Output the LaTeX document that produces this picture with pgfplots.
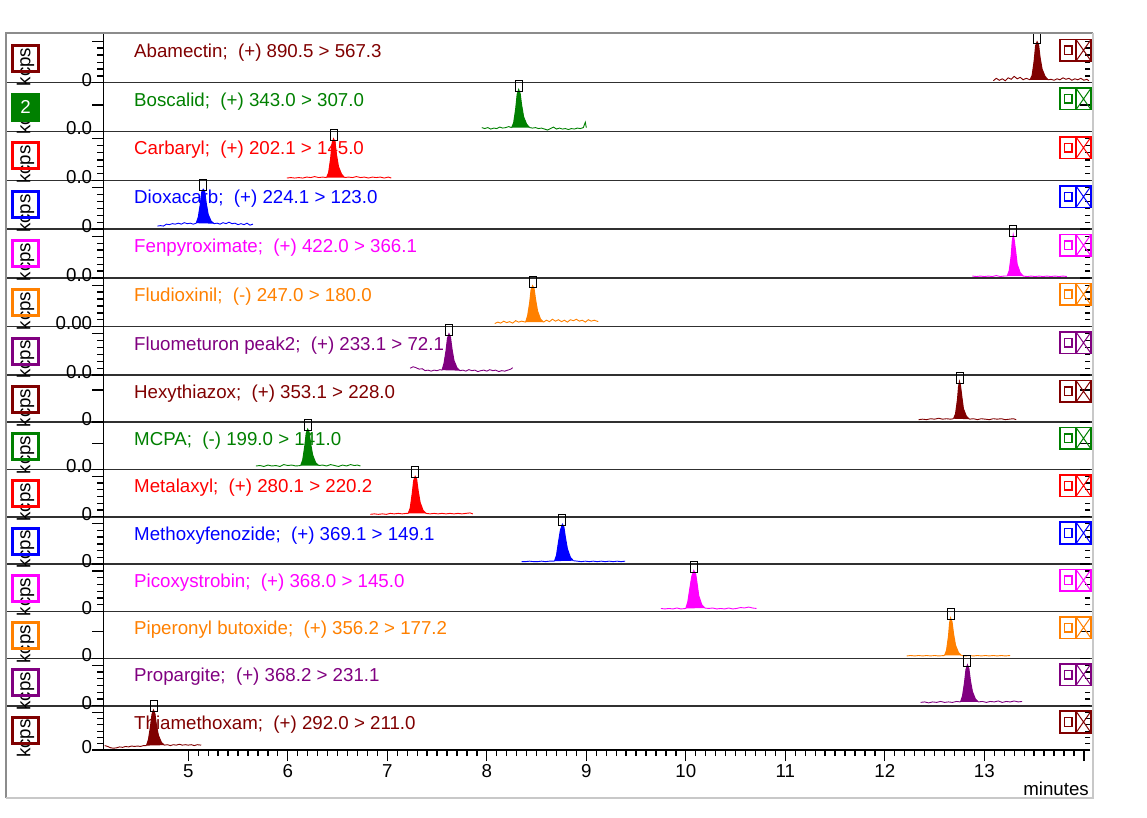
\documentclass[border=0pt]{standalone}
\usepackage{fontspec}
\setmainfont{Liberation Sans}
\usepackage{pgfplots}
\pgfplotsset{compat=1.18}
\definecolor{cA}{HTML}{800000}
\definecolor{cB}{HTML}{008000}
\definecolor{cC}{HTML}{FF0000}
\definecolor{cD}{HTML}{0000FF}
\definecolor{cE}{HTML}{FF00FF}
\definecolor{cF}{HTML}{FF8000}
\definecolor{cG}{HTML}{800080}
\definecolor{sep}{HTML}{303030}
\newcommand\fnt{\fontsize{18.7}{22}\selectfont}
\pgfdeclareplotmark{apexbox}{\pgfpathrectangle{\pgfqpoint{-3.5pt}{-1.5pt}}{\pgfqpoint{7pt}{11pt}}\pgfusepathqstroke}
\pgfplotsset{panel/.style={anchor=north west, width=987pt, scale only axis,
  xmin=4.146, xmax=14.065, ymin=0, ymax=1, clip=false,
  axis line style={draw=none}, ytick pos=left, xtick pos=bottom,
  tick align=outside, major tick length=11pt, minor tick length=6pt,
  tick style={black, line width=1.3pt}, xtick=\empty,
  /pgf/number format/assume math mode=true,
  tick label style={font=\fnt},
  yticklabel style={anchor=east, inner sep=0pt, xshift=0pt, yshift=3pt}},
  dense/.style={ytick={0,0.85}, minor ytick={0.14,0.28,0.42,0.57,0.71}},
  sparse/.style={ytick={0,#1}},
  ln/.style={#1, line width=0.9pt},
  pk/.style={fill=#1, draw=#1, line width=1pt}}
\newcommand\rtdense{\pgfplotsinvokeforeach{0.14,0.28,0.42,0.57,0.71,0.85}{\draw[line width=1.3pt] (rel axis cs:1,##1) -- ++(-5pt,0pt);}\draw[line width=1.3pt] (rel axis cs:1,0) -- ++(-10pt,0pt);}
\newcommand\rtsparse[1]{\draw[line width=1.3pt] (rel axis cs:1,#1) -- ++(-10pt,0pt);\draw[line width=1.3pt] (rel axis cs:1,0) -- ++(-10pt,0pt);}
\newcommand\apex[2]{\addplot[only marks, mark=apexbox, mark options={draw=black, line width=0.9pt}] coordinates {(#1,#2)};}
\newcommand\deco[3]{%
  \node[anchor=base west, text=#2, inner sep=0pt] at (134,{-#1-23.5}) {#3};
  \node[rotate=90, inner sep=0pt] at (25.5,{-#1-33}) {kcps};
  \draw[#2, line width=3pt] (12.5,{-#1-11.5}) rectangle (38.5,{-#1-37.5});}
\newcommand\icon[2]{%
  \draw[#2, line width=1.6pt] (1060,{-#1-5.5}) rectangle (1091,{-#1-27});
  \draw[#2, line width=1.4pt] (1076,{-#1-5.5}) -- (1076,{-#1-27});
  \draw[#2, line width=1.4pt] (1064.5,{-#1-12}) rectangle (1072,{-#1-20.5});
  \draw[#2, line width=1pt] (1076,{-#1-5.5}) -- (1091,{-#1-27}) (1076,{-#1-27}) -- (1091,{-#1-5.5});}
\begin{document}
\begin{tikzpicture}[x=1pt, y=1pt, font=\fnt]
\path[use as bounding box] (0,0) rectangle (1147,-818);
\foreach \T in {82.7,131.5,180.5,229,278,326.5,375,422,469.3,516.7,564,611.3,658.3,705.7}
  {\draw[sep, line width=1.6pt] (6,-\T) -- (1092,-\T);}
\draw[black, line width=1.6pt] (103.3,-750) -- (1090,-750);
\draw[black, line width=1.6pt] (103.3,-34) -- (103.3,-750);
\deco{34}{cA}{Abamectin;\ \ (+) 890.5 > 567.3}
\node[rotate=90, inner sep=0pt] at (25.5,{-82.7-33}) {kcps};
\fill[cB] (11,{-82.7-10}) rectangle (40,{-82.7-39});
\node[text=white] at (25.5,{-82.7-24.5}) {2};
\node[anchor=base west, text=cB, inner sep=0pt] at (134,{-82.7-23.5}) {Boscalid;\ \ (+) 343.0 > 307.0};
\deco{131.5}{cC}{Carbaryl;\ \ (+) 202.1 > 145.0}
\deco{180.5}{cD}{Dioxacarb;\ \ (+) 224.1 > 123.0}
\deco{229}{cE}{Fenpyroximate;\ \ (+) 422.0 > 366.1}
\deco{278}{cF}{Fludioxinil;\ \ (-) 247.0 > 180.0}
\deco{326.5}{cG}{Fluometuron peak2;\ \ (+) 233.1 > 72.1}
\deco{375}{cA}{Hexythiazox;\ \ (+) 353.1 > 228.0}
\deco{422}{cB}{MCPA;\ \ (-) 199.0 > 141.0}
\deco{469.3}{cC}{Metalaxyl;\ \ (+) 280.1 > 220.2}
\deco{516.7}{cD}{Methoxyfenozide;\ \ (+) 369.1 > 149.1}
\deco{564}{cE}{Picoxystrobin;\ \ (+) 368.0 > 145.0}
\deco{611.3}{cF}{Piperonyl butoxide;\ \ (+) 356.2 > 177.2}
\deco{658.3}{cG}{Propargite;\ \ (+) 368.2 > 231.1}
\deco{705.7}{cA}{Thiamethoxam;\ \ (+) 292.0 > 211.0}

% 1 Abamectin
\begin{axis}[panel, dense, at={(103.3pt,-34pt)}, height=48.7pt, yticklabels={0,{}}]
\addplot[ln=cA] coordinates {(13.09,0.04) (13.12,0.09) (13.15,0.05) (13.18,0.08) (13.21,0.04) (13.24,0.10) (13.27,0.07) (13.30,0.13) (13.33,0.08) (13.36,0.11) (13.39,0.06) (13.42,0.09) (13.46,0.06)};
\addplot[pk=cA] coordinates {(13.46,0.06) (13.48,0.15) (13.50,0.44) (13.515,0.76) (13.53,0.84) (13.545,0.78) (13.56,0.52) (13.58,0.28) (13.61,0.13) (13.64,0.06)};
\addplot[ln=cA] coordinates {(13.64,0.06) (13.67,0.07) (13.70,0.05) (13.73,0.08) (13.76,0.06) (13.79,0.10) (13.82,0.07) (13.85,0.09) (13.88,0.05) (13.91,0.08) (13.94,0.06) (13.97,0.09) (14.00,0.05) (14.03,0.07) (14.05,0.04)};
\apex{13.53}{0.84}
\rtdense
\end{axis}
% 2 Boscalid
\begin{axis}[panel, sparse=0.54, at={(103.3pt,-82.7pt)}, height=48.8pt, yticklabels={0.0,{}}]
\addplot[ln=cB] coordinates {(7.95,0.08) (7.98,0.06) (8.01,0.08) (8.04,0.05) (8.07,0.07) (8.10,0.06) (8.13,0.09) (8.16,0.07) (8.19,0.08) (8.22,0.10) (8.25,0.08)};
\addplot[pk=cB] coordinates {(8.25,0.08) (8.27,0.18) (8.29,0.46) (8.305,0.76) (8.32,0.86) (8.335,0.78) (8.35,0.54) (8.37,0.30) (8.40,0.15) (8.43,0.08)};
\addplot[ln=cB] coordinates {(8.43,0.08) (8.46,0.07) (8.49,0.08) (8.52,0.06) (8.55,0.07) (8.58,0.05) (8.61,0.03) (8.64,0.06) (8.67,0.09) (8.70,0.05) (8.73,0.07) (8.76,0.05) (8.79,0.06) (8.82,0.04) (8.85,0.06) (8.88,0.05) (8.91,0.07) (8.94,0.06) (8.97,0.08) (8.99,0.19) (9.00,0.08)};
\apex{8.32}{0.86}
\rtsparse{0.54}
\end{axis}
% 3 Carbaryl
\begin{axis}[panel, dense, at={(103.3pt,-131.5pt)}, height=49pt, yticklabels={0.0,{}}]
\addplot[ln=cC] coordinates {(5.99,0.05) (6.03,0.06) (6.07,0.05) (6.11,0.06) (6.15,0.05) (6.19,0.07) (6.23,0.06) (6.27,0.08) (6.31,0.06) (6.35,0.07) (6.39,0.06)};
\addplot[pk=cC] coordinates {(6.39,0.06) (6.41,0.16) (6.43,0.44) (6.445,0.76) (6.46,0.85) (6.475,0.78) (6.49,0.52) (6.51,0.28) (6.54,0.13) (6.57,0.06)};
\addplot[ln=cC] coordinates {(6.57,0.06) (6.61,0.07) (6.65,0.06) (6.69,0.08) (6.73,0.06) (6.77,0.07) (6.81,0.05) (6.85,0.07) (6.89,0.06) (6.93,0.07) (6.97,0.05) (7.01,0.07) (7.04,0.05)};
\apex{6.46}{0.85}
\rtdense
\end{axis}
% 4 Dioxacarb
\begin{axis}[panel, dense, at={(103.3pt,-180.5pt)}, height=48.5pt, yticklabels={0,{}}]
\addplot[ln=cD] coordinates {(4.69,0.06) (4.72,0.07) (4.75,0.06) (4.78,0.10) (4.81,0.09) (4.84,0.11) (4.87,0.10) (4.90,0.12) (4.93,0.10) (4.96,0.13) (4.99,0.11) (5.02,0.12) (5.05,0.10) (5.08,0.12)};
\addplot[pk=cD] coordinates {(5.08,0.12) (5.10,0.24) (5.12,0.50) (5.135,0.76) (5.15,0.82) (5.165,0.78) (5.18,0.54) (5.20,0.30) (5.23,0.16) (5.26,0.11)};
\addplot[ln=cD] coordinates {(5.26,0.11) (5.29,0.12) (5.32,0.10) (5.35,0.13) (5.38,0.11) (5.41,0.14) (5.44,0.11) (5.47,0.12) (5.50,0.09) (5.53,0.11) (5.56,0.09) (5.59,0.12) (5.62,0.08) (5.65,0.10)};
\apex{5.15}{0.82}
\rtdense
\end{axis}
% 5 Fenpyroximate
\begin{axis}[panel, dense, at={(103.3pt,-229pt)}, height=49pt, yticklabels={0.0,{}}]
\addplot[ln=cE] coordinates {(12.88,0.04) (12.92,0.03) (12.96,0.04) (13.00,0.03) (13.04,0.04) (13.08,0.03) (13.12,0.05) (13.16,0.03) (13.20,0.04) (13.23,0.04)};
\addplot[pk=cE] coordinates {(13.23,0.04) (13.25,0.15) (13.27,0.46) (13.28,0.74) (13.29,0.88) (13.30,0.78) (13.315,0.54) (13.33,0.28) (13.36,0.11) (13.39,0.04)};
\addplot[ln=cE] coordinates {(13.39,0.04) (13.43,0.03) (13.47,0.04) (13.51,0.03) (13.55,0.04) (13.59,0.03) (13.63,0.04) (13.67,0.03) (13.71,0.04) (13.75,0.03) (13.79,0.04) (13.83,0.03)};
\apex{13.29}{0.88}
\rtdense
\end{axis}
% 6 Fludioxinil
\begin{axis}[panel, dense, at={(103.3pt,-278pt)}, height=48.5pt, yticklabels={0.00,{}}]
\addplot[ln=cF] coordinates {(8.08,0.06) (8.11,0.09) (8.14,0.07) (8.17,0.11) (8.20,0.08) (8.23,0.10) (8.26,0.07) (8.29,0.12) (8.32,0.09) (8.35,0.11) (8.39,0.09)};
\addplot[pk=cF] coordinates {(8.39,0.09) (8.41,0.22) (8.43,0.48) (8.445,0.76) (8.46,0.84) (8.475,0.78) (8.49,0.56) (8.51,0.32) (8.54,0.15) (8.57,0.09)};
\addplot[ln=cF] coordinates {(8.57,0.09) (8.60,0.13) (8.63,0.10) (8.66,0.15) (8.69,0.11) (8.72,0.14) (8.75,0.10) (8.78,0.13) (8.81,0.09) (8.84,0.14) (8.87,0.12) (8.90,0.15) (8.93,0.11) (8.96,0.13) (8.99,0.09) (9.02,0.14) (9.05,0.11) (9.08,0.13) (9.12,0.10)};
\apex{8.46}{0.84}
\rtdense
\end{axis}
% 7 Fluometuron
\begin{axis}[panel, dense, at={(103.3pt,-326.5pt)}, height=48.5pt, yticklabels={0.0,{}}]
\addplot[ln=cG] coordinates {(7.23,0.14) (7.26,0.17) (7.29,0.15) (7.32,0.12) (7.35,0.13) (7.38,0.09) (7.41,0.10) (7.44,0.08) (7.47,0.10) (7.50,0.09) (7.53,0.11) (7.55,0.10)};
\addplot[pk=cG] coordinates {(7.55,0.10) (7.57,0.24) (7.59,0.50) (7.605,0.76) (7.62,0.85) (7.635,0.78) (7.65,0.54) (7.67,0.30) (7.70,0.15) (7.73,0.09)};
\addplot[ln=cG] coordinates {(7.73,0.09) (7.76,0.10) (7.79,0.08) (7.82,0.11) (7.85,0.09) (7.88,0.10) (7.91,0.07) (7.94,0.09) (7.97,0.10) (8.00,0.08) (8.03,0.11) (8.06,0.09) (8.09,0.10) (8.12,0.07) (8.15,0.09) (8.18,0.08) (8.21,0.10) (8.24,0.12) (8.26,0.15)};
\apex{7.62}{0.85}
\rtdense
\end{axis}
% 8 Hexythiazox
\begin{axis}[panel, sparse=0.68, at={(103.3pt,-375pt)}, height=47pt, yticklabels={0,{}}]
\addplot[ln=cA] coordinates {(12.34,0.05) (12.38,0.06) (12.42,0.05) (12.46,0.07) (12.50,0.06) (12.54,0.08) (12.58,0.06) (12.62,0.07) (12.66,0.06) (12.69,0.07)};
\addplot[pk=cA] coordinates {(12.69,0.07) (12.71,0.17) (12.73,0.48) (12.74,0.74) (12.75,0.86) (12.76,0.78) (12.775,0.52) (12.79,0.28) (12.82,0.12) (12.85,0.06)};
\addplot[ln=cA] coordinates {(12.85,0.06) (12.89,0.07) (12.93,0.05) (12.97,0.07) (13.01,0.06) (13.05,0.05) (13.09,0.07) (13.13,0.06) (13.17,0.07) (13.21,0.05) (13.25,0.06) (13.29,0.07) (13.32,0.05)};
\apex{12.75}{0.86}
\rtsparse{0.68}
\end{axis}
% 9 MCPA
\begin{axis}[panel, sparse=0.55, at={(103.3pt,-422pt)}, height=47.3pt, yticklabels={0.0,{}}]
\addplot[ln=cB] coordinates {(5.68,0.07) (5.72,0.08) (5.76,0.06) (5.80,0.09) (5.84,0.07) (5.88,0.08) (5.92,0.06) (5.96,0.10) (6.00,0.08) (6.04,0.09) (6.08,0.07) (6.13,0.08)};
\addplot[pk=cB] coordinates {(6.13,0.08) (6.15,0.20) (6.17,0.48) (6.185,0.76) (6.20,0.85) (6.215,0.78) (6.23,0.54) (6.25,0.30) (6.28,0.14) (6.31,0.08)};
\addplot[ln=cB] coordinates {(6.31,0.08) (6.35,0.09) (6.39,0.07) (6.43,0.10) (6.47,0.08) (6.51,0.06) (6.55,0.09) (6.59,0.07) (6.63,0.10) (6.67,0.08) (6.70,0.09) (6.73,0.07)};
\apex{6.20}{0.85}
\rtsparse{0.55}
\end{axis}
% 10 Metalaxyl
\begin{axis}[panel, dense, at={(103.3pt,-469.3pt)}, height=47.4pt, yticklabels={0,{}}]
\addplot[ln=cC] coordinates {(6.83,0.05) (6.87,0.06) (6.91,0.05) (6.95,0.06) (6.99,0.05) (7.03,0.07) (7.07,0.06) (7.11,0.07) (7.15,0.06) (7.19,0.07) (7.21,0.07)};
\addplot[pk=cC] coordinates {(7.21,0.07) (7.23,0.18) (7.25,0.48) (7.265,0.76) (7.28,0.85) (7.295,0.79) (7.31,0.55) (7.33,0.30) (7.36,0.13) (7.39,0.07)};
\addplot[ln=cC] coordinates {(7.39,0.07) (7.43,0.06) (7.47,0.07) (7.51,0.06) (7.55,0.07) (7.59,0.06) (7.63,0.07) (7.67,0.06) (7.71,0.07) (7.75,0.06) (7.79,0.07) (7.83,0.08) (7.86,0.06)};
\apex{7.28}{0.85}
\rtdense
\end{axis}
% 11 Methoxyfenozide
\begin{axis}[panel, dense, at={(103.3pt,-516.7pt)}, height=47.3pt, yticklabels={0,{}}]
\addplot[ln=cD] coordinates {(8.35,0.05) (8.39,0.05) (8.43,0.06) (8.47,0.05) (8.51,0.05) (8.55,0.06) (8.59,0.05) (8.63,0.06) (8.68,0.06)};
\addplot[pk=cD] coordinates {(8.68,0.06) (8.70,0.18) (8.72,0.46) (8.74,0.72) (8.76,0.84) (8.775,0.78) (8.79,0.56) (8.81,0.32) (8.84,0.14) (8.87,0.07)};
\addplot[ln=cD] coordinates {(8.87,0.07) (8.91,0.06) (8.95,0.05) (8.99,0.06) (9.03,0.05) (9.07,0.06) (9.11,0.05) (9.15,0.06) (9.19,0.05) (9.23,0.06) (9.27,0.05) (9.31,0.06) (9.35,0.05) (9.39,0.06)};
\apex{8.76}{0.84}
\rtdense
\end{axis}
% 12 Picoxystrobin
\begin{axis}[panel, dense, at={(103.3pt,-564pt)}, height=47.3pt, yticklabels={0,{}}]
\addplot[ln=cE] coordinates {(9.75,0.06) (9.79,0.05) (9.83,0.06) (9.87,0.05) (9.91,0.07) (9.95,0.05) (10.00,0.06)};
\addplot[pk=cE] coordinates {(10.00,0.06) (10.02,0.20) (10.04,0.48) (10.06,0.74) (10.08,0.86) (10.10,0.78) (10.115,0.56) (10.13,0.33) (10.16,0.14) (10.19,0.07)};
\addplot[ln=cE] coordinates {(10.19,0.07) (10.23,0.06) (10.27,0.07) (10.31,0.05) (10.35,0.06) (10.39,0.05) (10.43,0.07) (10.47,0.05) (10.51,0.06) (10.55,0.08) (10.59,0.07) (10.63,0.09) (10.67,0.07) (10.71,0.06)};
\apex{10.08}{0.86}
\rtdense
\end{axis}
% 13 Piperonyl butoxide
\begin{axis}[panel, sparse=0.57, at={(103.3pt,-611.3pt)}, height=47pt, yticklabels={0,{}}]
\addplot[ln=cF] coordinates {(12.22,0.05) (12.26,0.06) (12.30,0.05) (12.34,0.06) (12.38,0.05) (12.42,0.06) (12.46,0.05) (12.50,0.06) (12.54,0.05) (12.60,0.06)};
\addplot[pk=cF] coordinates {(12.60,0.06) (12.62,0.17) (12.64,0.48) (12.65,0.74) (12.66,0.86) (12.675,0.78) (12.69,0.53) (12.71,0.28) (12.74,0.12) (12.77,0.06)};
\addplot[ln=cF] coordinates {(12.77,0.06) (12.81,0.05) (12.85,0.06) (12.89,0.05) (12.93,0.06) (12.97,0.05) (13.01,0.06) (13.05,0.05) (13.09,0.06) (13.13,0.05) (13.17,0.06) (13.21,0.05) (13.26,0.06)};
\apex{12.66}{0.86}
\rtsparse{0.57}
\end{axis}
% 14 Propargite
\begin{axis}[panel, dense, at={(103.3pt,-658.3pt)}, height=47.4pt, yticklabels={0,{}}]
\addplot[ln=cG] coordinates {(12.36,0.07) (12.40,0.08) (12.44,0.06) (12.48,0.08) (12.52,0.07) (12.56,0.09) (12.60,0.07) (12.64,0.08) (12.68,0.07) (12.72,0.09) (12.76,0.08)};
\addplot[pk=cG] coordinates {(12.76,0.08) (12.78,0.20) (12.80,0.48) (12.815,0.76) (12.83,0.86) (12.845,0.78) (12.86,0.53) (12.88,0.30) (12.91,0.14) (12.94,0.08)};
\addplot[ln=cG] coordinates {(12.94,0.08) (12.98,0.09) (13.02,0.07) (13.06,0.09) (13.10,0.08) (13.14,0.10) (13.18,0.07) (13.22,0.09) (13.26,0.08) (13.30,0.10) (13.34,0.08) (13.38,0.09)};
\apex{12.83}{0.86}
\rtdense
\end{axis}
% 15 Thiamethoxam
\begin{axis}[panel, dense, at={(103.3pt,-705.7pt)}, height=44.3pt, yticklabels={0,{}},
  xtick={5,6,7,8,9,10,11,12,13,14}, xticklabels={5,6,7,8,9,10,11,12,13,{}}, minor x tick num=9,
  xticklabel style={anchor=north, inner sep=0pt, yshift=-3pt}]
\addplot[ln=cA] coordinates {(4.16,0.10) (4.19,0.08) (4.22,0.05) (4.25,0.04) (4.28,0.05) (4.31,0.07) (4.34,0.06) (4.37,0.08) (4.40,0.07) (4.43,0.09) (4.46,0.08) (4.49,0.09) (4.52,0.08) (4.55,0.10) (4.58,0.10)};
\addplot[pk=cA] coordinates {(4.58,0.10) (4.60,0.24) (4.62,0.53) (4.635,0.80) (4.65,0.90) (4.665,0.82) (4.68,0.56) (4.70,0.33) (4.73,0.17) (4.76,0.11)};
\addplot[ln=cA] coordinates {(4.76,0.11) (4.79,0.12) (4.82,0.10) (4.85,0.12) (4.88,0.11) (4.91,0.13) (4.94,0.11) (4.97,0.12) (5.00,0.11) (5.03,0.12) (5.06,0.10) (5.09,0.12) (5.13,0.11)};
\apex{4.65}{0.90}
\rtdense
\end{axis}

\icon{34}{cA}\icon{82.7}{cB}\icon{131.5}{cC}\icon{180.5}{cD}\icon{229}{cE}
\icon{278}{cF}\icon{326.5}{cG}\icon{375}{cA}\icon{422}{cB}\icon{469.3}{cC}
\icon{516.7}{cD}\icon{564}{cE}\icon{611.3}{cF}\icon{658.3}{cG}\icon{705.7}{cA}
\node[anchor=base east, inner sep=0pt] at (1089,-795) {minutes};
\draw[color={rgb,255:red,140;green,140;blue,140}, line width=2pt] (6,-798) -- (6,-33) -- (1093,-33);
\draw[color={rgb,255:red,200;green,200;blue,200}, line width=2.5pt] (1093,-33) -- (1093,-798) -- (6,-798);
\end{tikzpicture}
\end{document}
